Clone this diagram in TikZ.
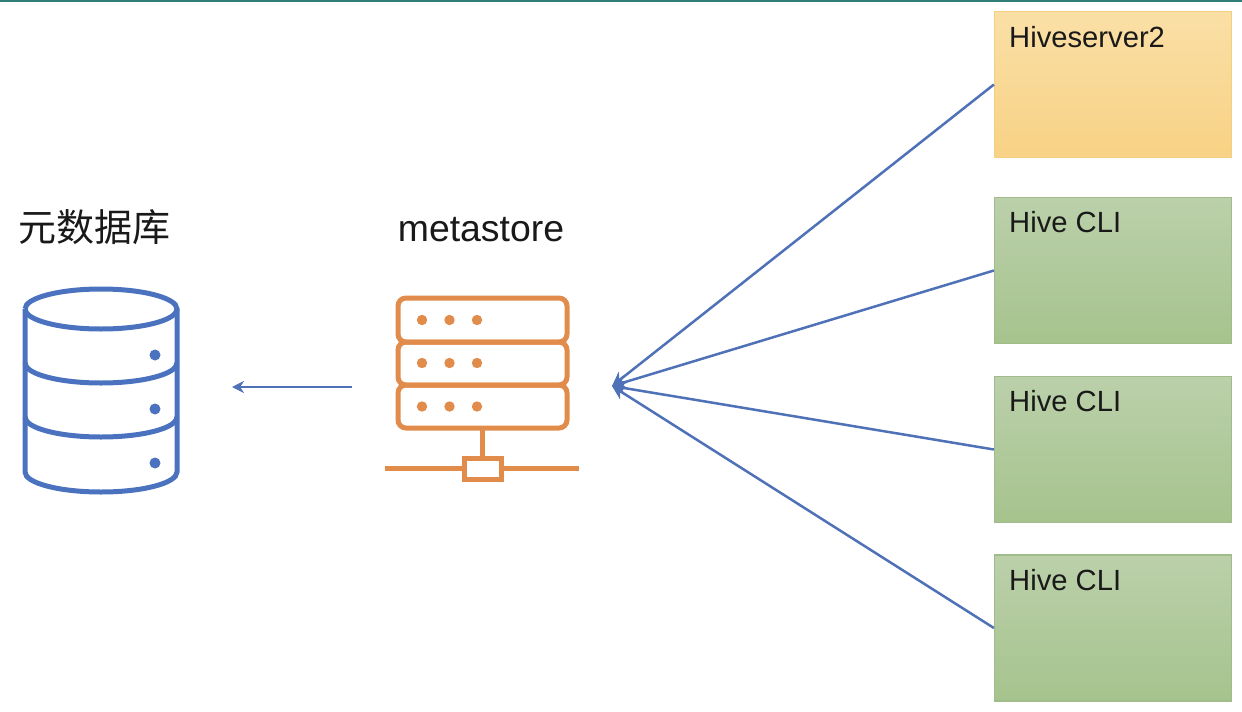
\documentclass[tikz,border=0pt]{standalone}
\usepackage{fontspec}
\setmainfont{Liberation Sans}
\newfontfamily\cjk{Noto Sans CJK SC}
\usetikzlibrary{arrows.meta}
\definecolor{linkblue}{HTML}{4F71B8}
\definecolor{iconblue}{HTML}{4A72BE}
\definecolor{iconorange}{HTML}{E28C4C}
\definecolor{topbar}{HTML}{2F7F78}
\definecolor{ytop}{HTML}{FADFA6}
\definecolor{ybot}{HTML}{F8D285}
\definecolor{yedge}{HTML}{F3CF80}
\definecolor{gtop}{HTML}{BBD0AA}
\definecolor{gbot}{HTML}{A6C38D}
\definecolor{gedge}{HTML}{A0BC8A}
\tikzset{
  client/.style={draw=#1,minimum width=237pt,minimum height=146pt,inner sep=0pt,line width=1.2pt},
  yellowbox/.style={client=yedge,top color=ytop,bottom color=ybot},
  greenbox/.style={client=gedge,top color=gtop,bottom color=gbot},
  boxtext/.style={anchor=base west,inner sep=0pt,font=\fontsize{29.2}{32}\selectfont,text=black!90},
  headtext/.style={anchor=base,inner sep=0pt,font=\fontsize{37.4}{38}\selectfont,text=black!90},
  link/.style={draw=linkblue,line width=2.5pt,-{Stealth[length=14pt,width=14pt]}},
  smalllink/.style={draw=linkblue,line width=2.5pt,-{Stealth[length=12pt,width=12pt]}},
  dbline/.style={draw=iconblue,line width=5pt},
  srvline/.style={draw=iconorange,line width=5pt},
}
\begin{document}
\begin{tikzpicture}[x=1pt,y=-1pt]
\useasboundingbox (0,0) rectangle (1242,712);
\fill[white] (0,0) rectangle (1242,712);
\fill[topbar] (0,0) rectangle (1242,2);

% clients
\node[yellowbox] (hs) at (1113,84.5) {};
\node[greenbox] (c1) at (1113,270.5) {};
\node[greenbox] (c2) at (1113,449.5) {};
\node[greenbox] (c3) at (1113,628) {};
\node[boxtext] (hst) at (1009,47) {Hiveserver2};
\node[boxtext] (c1t) at (1009,232) {Hive CLI};
\node[boxtext] (c2t) at (1009,411) {Hive CLI};
\node[boxtext] (c3t) at (1009,590) {Hive CLI};

% headings
\node[headtext] (dbt) at (95,241) {\cjk\fontsize{38}{38}\selectfont 元数据库};
\node[headtext] (mst) at (481,241) {metastore};

% connectors
\coordinate (hub) at (612,386);
\coordinate (from) at (352,387);
\coordinate (to) at (232,387);
\draw[link] (hs.west) -- (hub);
\draw[link] (c1.west) -- (hub);
\draw[link] (c2.west) -- (hub);
\draw[link] (c3.west) -- (hub);
\draw[smalllink] (from) -- (to);

% database icon
\draw[dbline] (25,309) arc[start angle=180,end angle=540,x radius=76,y radius=20];
\draw[dbline] (25,309) -- (25,472) arc[start angle=180,end angle=0,x radius=76,y radius=20] -- (177,309);
\draw[dbline] (25,363) arc[start angle=180,end angle=0,x radius=76,y radius=20];
\draw[dbline] (25,417) arc[start angle=180,end angle=0,x radius=76,y radius=20];
\foreach \yy in {355,409,463} \fill[iconblue] (155,\yy) circle[radius=5.5];

% server icon
\draw[srvline,rounded corners=8pt] (398,298) rectangle (567,342);
\draw[srvline,rounded corners=8pt] (398,342) rectangle (567,385);
\draw[srvline,rounded corners=8pt] (398,385) rectangle (567,428);
\foreach \yy in {320,363,406.5} \foreach \xx in {422,449.5,477} \fill[iconorange] (\xx,\yy) circle[radius=5.2];
\draw[srvline] (482,428) -- (482,458);
\draw[srvline] (385,468) -- (464,468);
\draw[srvline] (501,468) -- (579,468);
\draw[srvline] (464,458) rectangle (501,479);
\end{tikzpicture}
\end{document}
